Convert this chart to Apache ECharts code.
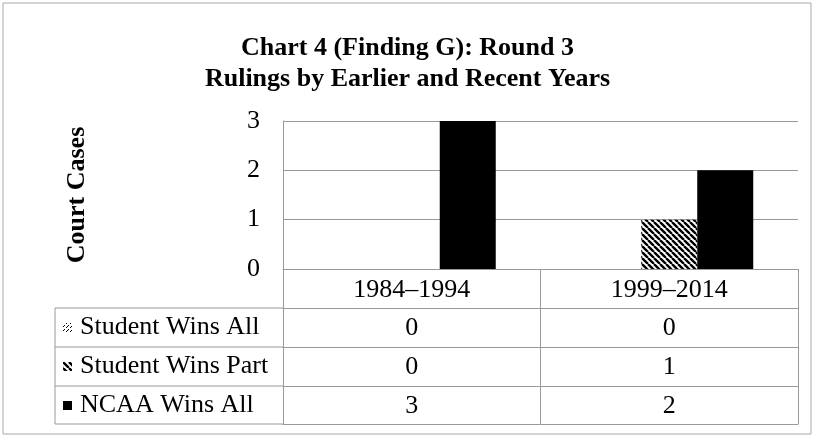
<!DOCTYPE html>
<html>
<head>
<meta charset="utf-8">
<script src="https://cdn.jsdelivr.net/npm/echarts@6/dist/echarts.min.js"></script>
<style>
  html, body { margin: 0; padding: 0; background: #fff; }
  #chart { width: 815px; height: 437px; }
</style>
</head>
<body>
<div id="chart"></div>
<script>
// data
const categories = ["1984–1994", "1999–2014"];
const seriesNames = ["Student Wins All", "Student Wins Part", "NCAA Wins All"];
const studentWinsAll = [0, 0];
const studentWinsPart = [0, 1];
const ncaaWinsAll = [3, 2];
const yTicks = [0, 1, 2, 3];

const rows = [studentWinsAll, studentWinsPart, ncaaWinsAll];
const serif = "Liberation Serif";
const lineGrey = "#999";

// hatch fills
function makePattern(draw, size) {
  const c = document.createElement("canvas");
  c.width = size;
  c.height = size;
  const ctx = c.getContext("2d");
  ctx.fillStyle = "#fff";
  ctx.fillRect(0, 0, size, size);
  draw(ctx, size);
  return { image: c, repeat: "repeat" };
}
const diagStripes = makePattern((ctx, s) => {
  ctx.strokeStyle = "#000";
  ctx.lineWidth = 2.4;
  ctx.beginPath();
  // "\" direction stripes
  for (let k = -1; k <= 1; k++) {
    ctx.moveTo(k * s, 0);
    ctx.lineTo(k * s + s, s);
  }
  ctx.stroke();
}, 6);
const sparseDots = makePattern((ctx, s) => {
  ctx.fillStyle = "#000";
  ctx.fillRect(0, 3, 1, 1);
  ctx.fillRect(1, 2, 1, 1);
  ctx.fillRect(3, 0, 1, 1);
}, 4);

const chart = echarts.init(document.getElementById("chart"));

const gridLeft = 283, gridRight = 17, gridTop = 121, gridBottom = 168;
const rowH = [39, 39, 38];

// category axis + one label axis per table row
const xAxes = [
  {
    type: "category",
    data: categories,
    gridIndex: 0,
    position: "bottom",
    axisLine: { show: true, lineStyle: { color: lineGrey, width: 1 } },
    axisTick: { show: true, interval: 0, length: 39, lineStyle: { color: lineGrey } },
    axisLabel: { color: "#000", fontFamily: serif, fontSize: 26, margin: 8 },
  },
];
let off = 39;
rows.forEach((vals, r) => {
  xAxes.push({
    type: "category",
    data: categories,
    gridIndex: 0,
    position: "bottom",
    offset: off,
    axisLine: { show: true, lineStyle: { color: lineGrey, width: 1 } },
    axisTick: { show: true, interval: 0, length: rowH[r], lineStyle: { color: lineGrey } },
    axisLabel: {
      color: "#000", fontFamily: serif, fontSize: 26, margin: 7,
      formatter: (v, i) => String(vals[i]),
    },
  });
  off += rowH[r];
});
// closing line under the table
xAxes.push({
  type: "category",
  data: categories,
  gridIndex: 0,
  position: "bottom",
  offset: off,
  axisLine: { show: true, lineStyle: { color: lineGrey, width: 1 } },
  axisTick: { show: false },
  axisLabel: { show: false },
});

// left column lines of the table
const tableLeft = 55;
const tableLines = [];
let yy = 437 - gridBottom + 39;
[0, 1, 2, 3].forEach((i) => {
  tableLines.push({
    type: "line",
    shape: { x1: tableLeft, y1: yy, x2: gridLeft, y2: yy },
    style: { stroke: lineGrey, lineWidth: 1 },
  });
  if (i < 3) yy += rowH[i];
});
tableLines.push({
  type: "line",
  shape: { x1: tableLeft, y1: 437 - gridBottom + 39, x2: tableLeft, y2: yy },
  style: { stroke: lineGrey, lineWidth: 1 },
});

const option = {
  animation: false,
  backgroundColor: "#fff",
  title: {
    text: "Chart 4 (Finding G): Round 3\nRulings by Earlier and Recent Years",
    left: "center",
    top: 28,
    textStyle: {
      fontFamily: serif,
      fontWeight: "bold",
      fontSize: 26,
      lineHeight: 31,
      color: "#000",
    },
  },
  legend: {
    orient: "vertical",
    left: 63,
    top: 437 - gridBottom + 39,
    padding: 0,
    itemGap: 0,
    itemWidth: 9,
    itemHeight: 9,
    icon: "rect",
    data: seriesNames,
    textStyle: { fontFamily: serif, fontSize: 26, color: "#000", lineHeight: 39, padding: [0, 0, 0, 3] },
  },
  grid: { left: gridLeft, right: gridRight, top: gridTop, bottom: gridBottom, containLabel: false },
  xAxis: xAxes,
  yAxis: {
    type: "value",
    min: 0,
    max: yTicks[yTicks.length - 1],
    interval: 1,
    name: "Court Cases",
    nameLocation: "middle",
    nameGap: 193,
    nameTextStyle: { fontFamily: serif, fontWeight: "bold", fontSize: 26, color: "#000" },
    axisLine: { show: true, lineStyle: { color: lineGrey, width: 1 } },
    axisTick: { show: false },
    axisLabel: { color: "#000", fontFamily: serif, fontSize: 26, margin: 23 },
    splitLine: { show: true, lineStyle: { color: lineGrey, width: 1.2 } },
  },
  series: [
    {
      name: seriesNames[0], type: "bar", data: studentWinsAll,
      barWidth: 56, barGap: "0%",
      itemStyle: { color: sparseDots },
    },
    {
      name: seriesNames[1], type: "bar", data: studentWinsPart,
      barWidth: 56, barGap: "0%",
      itemStyle: { color: diagStripes },
    },
    {
      name: seriesNames[2], type: "bar", data: ncaaWinsAll,
      barWidth: 56, barGap: "0%",
      itemStyle: { color: "#000" },
    },
  ],
  graphic: [
    {
      type: "rect",
      shape: { x: 3, y: 3, width: 808, height: 431 },
      style: { fill: null, stroke: "#a8a8a8", lineWidth: 1 },
      silent: true,
    },
  ].concat(tableLines),
};

chart.setOption(option);
</script>
</body>
</html>
